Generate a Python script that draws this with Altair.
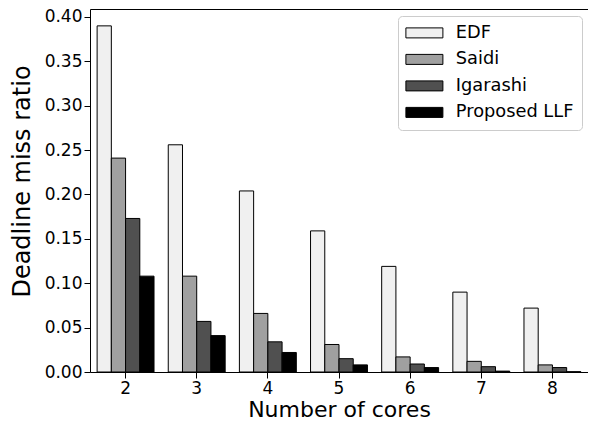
import altair as alt
import pandas as pd

cores = [2, 3, 4, 5, 6, 7, 8]
series_names = ["EDF", "Saidi", "Igarashi", "Proposed LLF"]
edf = [0.390, 0.256, 0.204, 0.159, 0.119, 0.090, 0.072]
saidi = [0.241, 0.108, 0.066, 0.031, 0.017, 0.012, 0.008]
igarashi = [0.173, 0.057, 0.034, 0.015, 0.009, 0.006, 0.005]
llf = [0.108, 0.041, 0.022, 0.008, 0.005, 0.001, 0.0003]
colors = ["#f0f0f0", "#a0a0a0", "#505050", "#000000"]
y_ticks = [0.0, 0.05, 0.10, 0.15, 0.20, 0.25, 0.30, 0.35, 0.40]

rows = []
for name, vals in zip(series_names, [edf, saidi, igarashi, llf]):
    for c, v in zip(cores, vals):
        rows.append({"cores": str(c), "method": name, "ratio": v})
df = pd.DataFrame(rows)

FONT = "DejaVu Sans"

chart = alt.Chart(df).mark_bar(stroke="black", strokeWidth=1).encode(
    x=alt.X("cores:N", sort=[str(c) for c in cores],
            scale=alt.Scale(paddingInner=0.2, paddingOuter=0.1),
            axis=alt.Axis(title="Number of cores", labelAngle=0, labelFontSize=17,
                          titleFontSize=22, titleFontWeight="normal", tickSize=6,
                          tickColor="black", domain=False, labelColor="black",
                          titleColor="black", labelPadding=2,
                          titleBaseline="alphabetic", titleY=44)),
    xOffset=alt.XOffset("method:N", sort=series_names, scale=alt.Scale(paddingInner=0, paddingOuter=0)),
    y=alt.Y("ratio:Q", scale=alt.Scale(domain=[0, 0.409], nice=False),
            axis=alt.Axis(title="Deadline miss ratio", values=y_ticks, format=".2f",
                          labelFontSize=17, titleFontSize=24, titleFontWeight="normal",
                          tickSize=6, tickColor="black", domain=False, grid=False,
                          labelColor="black", titleColor="black", labelPadding=2,
                          titleY=172, titleX=-56)),
    fill=alt.Fill("method:N", sort=series_names,
                  scale=alt.Scale(domain=series_names, range=colors),
                  legend=alt.Legend(title=None, orient="none", legendX=308, legendY=7,
                                    symbolType="M-1.8,-1H5.6V1H-1.8Z", symbolSize=100,
                                    symbolStrokeColor="black", symbolStrokeWidth=1,
                                    labelFontSize=17.8, labelColor="black",
                                    strokeColor="#cccccc", fillColor="white",
                                    cornerRadius=4, padding=8, rowPadding=7.5,
                                    labelOffset=32)),
).properties(
    width=498, height=363,
    autosize=alt.AutoSizeParams(type="none"),
    padding={"left": 82, "top": 1, "right": 0, "bottom": 46},
).configure(font=FONT).configure_view(stroke="black", strokeWidth=1)

chart.save("out.html", embed_options={"renderer": "svg", "actions": False})
